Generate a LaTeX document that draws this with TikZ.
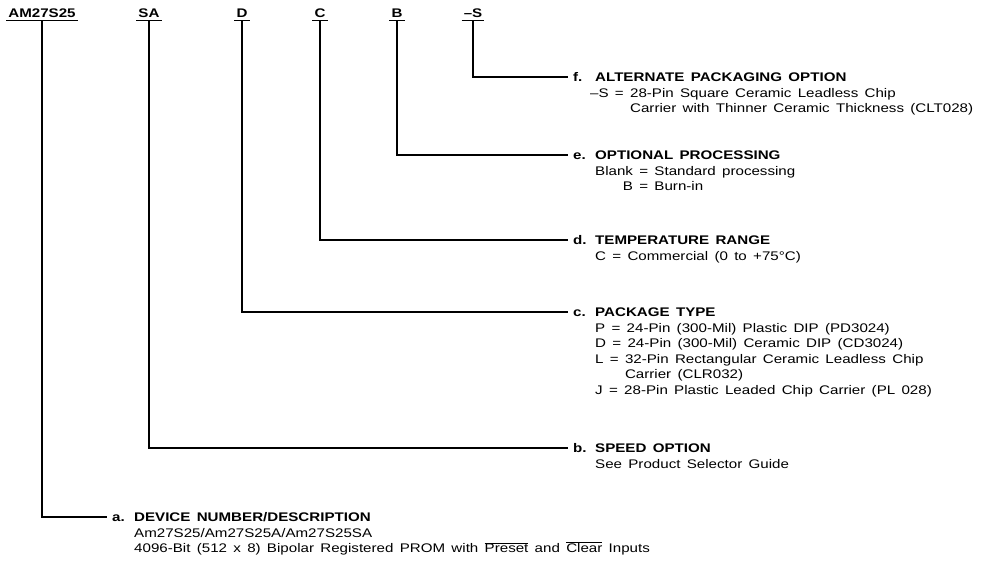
\documentclass[tikz,border=0pt]{standalone}
\usepackage{fontspec}
\setmainfont{Liberation Sans}[FakeStretch=1.21,WordSpace=1.5]
\usetikzlibrary{positioning}

\newcommand{\itemno}[1]{\makebox[22pt][l]{#1}}

\tikzset{
  partno/.style={font=\bfseries\fontsize{12.5}{15.5}\selectfont, inner xsep=2pt, inner ysep=2pt, text depth=0pt, anchor=base},
  heading/.style={font=\bfseries\fontsize{12.5}{15.5}\selectfont, inner sep=0pt, text height=9pt, text depth=0pt, anchor=west},
  body/.style={font=\fontsize{12.5}{15.5}\selectfont, inner sep=0pt, align=left, anchor=north west},
  lead/.style={line width=1.6pt, shorten >=5pt},
  uline/.style={line width=1.3pt}
}

\begin{document}
\begin{tikzpicture}[x=1pt, y=-1pt]
  \useasboundingbox (0,0) rectangle (989,561);

  \node (am) at (42,18) [partno] {AM27S25};
  \node (sa) at (149,18) [partno] {SA};
  \node (d) at (242,18) [partno] {D};
  \node (c) at (320,18) [partno] {C};
  \node (b) at (397,18) [partno] {B};
  \node (s) at (473,18) [partno] {--S};

  \node (hf) at (573,77) [heading] {\itemno{f.}ALTERNATE PACKAGING OPTION};
  \node (he) at (573,155) [heading] {\itemno{e.}OPTIONAL PROCESSING};
  \node (hd) at (573,240) [heading] {\itemno{d.}TEMPERATURE RANGE};
  \node (hc) at (573,312) [heading] {\itemno{c.}PACKAGE TYPE};
  \node (hb) at (573,448) [heading] {\itemno{b.}SPEED OPTION};
  \node (ha) at (112,517) [heading] {\itemno{a.}DEVICE NUMBER/DESCRIPTION};

  \node (tf) at ([xshift=17pt,yshift=-6.4pt]hf.south west) [body]
    {--S = 28-Pin Square Ceramic Leadless Chip\\
     \hphantom{--S = }Carrier with Thinner Ceramic Thickness (CLT028)};
  \node (te) at ([xshift=22pt,yshift=-6.4pt]he.south west) [body]
    {Blank = Standard processing\\
     \hphantom{Blank}\llap{B} = Burn-in};
  \node (td) at ([xshift=22pt,yshift=-6.4pt]hd.south west) [body]
    {C = Commercial (0 to +75°C)};
  \node (tc) at ([xshift=22pt,yshift=-6.4pt]hc.south west) [body]
    {P = 24-Pin (300-Mil) Plastic DIP (PD3024)\\
     D = 24-Pin (300-Mil) Ceramic DIP (CD3024)\\
     L = 32-Pin Rectangular Ceramic Leadless Chip\\
     \hphantom{L = }Carrier (CLR032)\\
     J = 28-Pin Plastic Leaded Chip Carrier (PL 028)};
  \node (tb) at ([xshift=22pt,yshift=-6.4pt]hb.south west) [body]
    {See Product Selector Guide};
  \node (ta) at ([xshift=22pt,yshift=-6.4pt]ha.south west) [body]
    {Am27S25/Am27S25A/Am27S25SA\\
     4096-Bit (512 x 8) Bipolar Registered PROM with
     $\overline{\mbox{Preset}}$ and $\overline{\mbox{Clear}}$ Inputs};

  % underlines of the part number fields
  \foreach \f in {am,sa,d,c,b,s}
    \draw[uline] (\f.south west) -- (\f.south east);

  \draw[lead] (s.south) |- (hf.west);
  \draw[lead] (b.south) |- (he.west);
  \draw[lead] (c.south) |- (hd.west);
  \draw[lead] (d.south) |- (hc.west);
  \draw[lead] (sa.south) |- (hb.west);
  \draw[lead] (am.south) |- (ha.west);
\end{tikzpicture}
\end{document}
